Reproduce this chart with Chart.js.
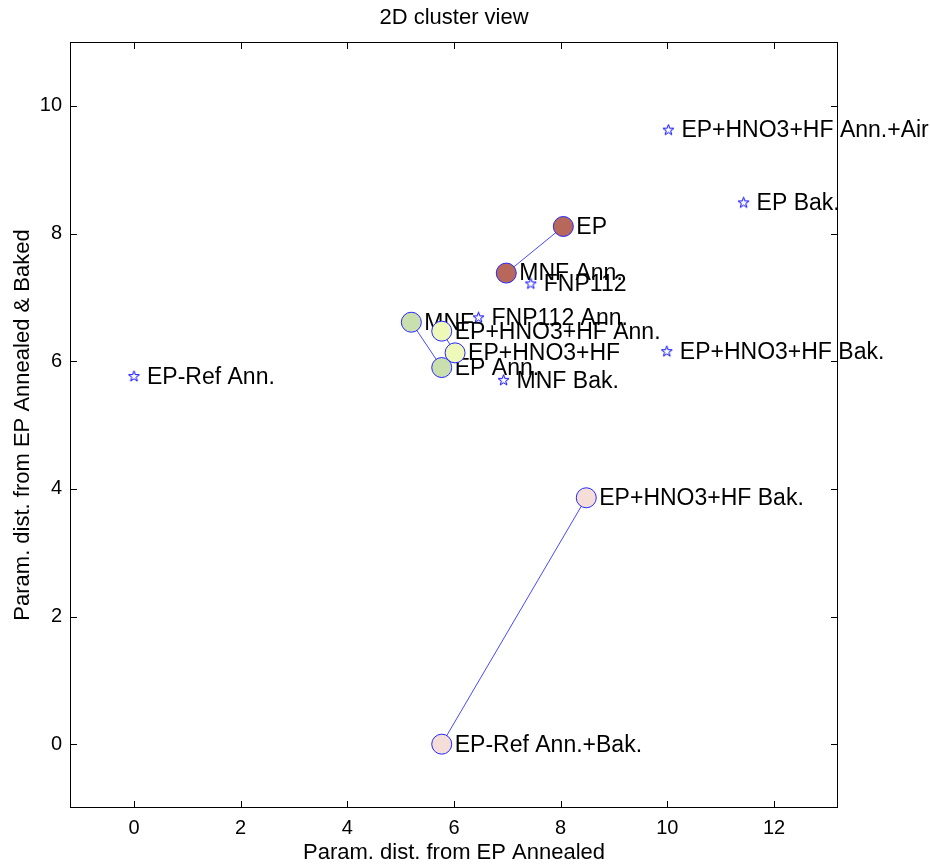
<!DOCTYPE html>
<html>
<head>
<meta charset="utf-8">
<title>2D cluster view</title>
<script src="https://cdn.jsdelivr.net/npm/chart.js@4.4.1/dist/chart.umd.min.js"></script>
<style>
  html, body { margin: 0; padding: 0; background: #fff; }
  #wrap { width: 930px; height: 868px; }
</style>
</head>
<body>
<div id="wrap"><canvas id="clusterChart"></canvas></div>
<script>
// linked samples: entries 0-1, 2-3, 4-5, 6-7 belong together
const pairNames = ['EP', 'MNF Ann.', 'MNF', 'EP Ann.', 'EP+HNO3+HF Ann.', 'EP+HNO3+HF', 'EP+HNO3+HF Bak.', 'EP-Ref Ann.+Bak.'];
const pairX = [8.05, 6.98, 5.20, 5.77, 5.77, 6.02, 8.48, 5.77];
const pairY = [8.11, 7.38, 6.61, 5.90, 6.47, 6.13, 3.86, 0.00];

// samples without a partner, drawn as stars
const soloNames = ['EP+HNO3+HF Ann.+Air', 'EP Bak.', 'FNP112', 'FNP112 Ann.', 'EP+HNO3+HF Bak.', 'MNF Bak.', 'EP-Ref Ann.'];
const soloX = [10.02, 11.43, 7.44, 6.46, 9.99, 6.93, 0.00];
const soloY = [9.62, 8.48, 7.21, 6.68, 6.15, 5.70, 5.76];

const xTicks = [0, 2, 4, 6, 8, 10, 12];
const yTicks = [0, 2, 4, 6, 8, 10];

const pairFills = ['#b7685b', '#c9dfae', '#eef8b8', '#f5ddd8'];
const FONT = '"Liberation Sans", Arial, Helvetica, sans-serif';

// outlined pentagram used as point style
function starMarker(size) {
  const c = document.createElement('canvas');
  c.width = size;
  c.height = size;
  const g = c.getContext('2d');
  const cx = size / 2, cy = size / 2, R = size / 2 - 0.8, r = R * 0.4;
  g.beginPath();
  for (let i = 0; i < 10; i++) {
    const a = -Math.PI / 2 + i * Math.PI / 5;
    const rad = i % 2 ? r : R;
    const px = cx + rad * Math.cos(a), py = cy + rad * Math.sin(a);
    if (i) g.lineTo(px, py); else g.moveTo(px, py);
  }
  g.closePath();
  g.strokeStyle = '#0000ff';
  g.lineWidth = 1;
  g.stroke();
  return c;
}

// higher order is painted first, so pairs stack brown -> pink, stars last
const datasets = [];
for (let i = 0; i < pairNames.length; i += 2) {
  datasets.push({
    label: pairNames[i] + ' / ' + pairNames[i + 1],
    data: [
      { x: pairX[i], y: pairY[i], name: pairNames[i] },
      { x: pairX[i + 1], y: pairY[i + 1], name: pairNames[i + 1] }
    ],
    order: 10 - i,
    showLine: true,
    borderColor: '#4848ff',
    borderWidth: 1,
    pointRadius: 10,
    pointBackgroundColor: pairFills[i / 2],
    pointBorderColor: '#2626ff',
    pointBorderWidth: 1
  });
}
datasets.push({
  label: 'single',
  data: soloNames.map((n, i) => ({ x: soloX[i], y: soloY[i], name: n })),
  order: 0,
  pointStyle: starMarker(13),
  pointRadius: 6,
  showLine: false
});

// box around the plot with inward tick marks on all four sides
const axesBox = {
  id: 'axesBox',
  beforeDatasetsDraw(chart) {
    const { ctx, chartArea: a, scales: { x, y } } = chart;
    const len = 7;
    ctx.save();
    ctx.strokeStyle = '#000';
    ctx.lineWidth = 1;
    ctx.strokeRect(a.left + 0.5, a.top + 0.5, a.width - 1, a.height - 1);
    ctx.beginPath();
    x.ticks.forEach(t => {
      const px = Math.round(x.getPixelForValue(t.value)) + 0.5;
      ctx.moveTo(px, a.bottom); ctx.lineTo(px, a.bottom - len);
      ctx.moveTo(px, a.top); ctx.lineTo(px, a.top + len);
    });
    y.ticks.forEach(t => {
      const py = Math.round(y.getPixelForValue(t.value)) + 0.5;
      ctx.moveTo(a.left, py); ctx.lineTo(a.left + len, py);
      ctx.moveTo(a.right, py); ctx.lineTo(a.right - len, py);
    });
    ctx.stroke();
    ctx.restore();
  }
};

// sample names to the right of each marker, painted right after their dataset
const pointLabels = {
  id: 'pointLabels',
  afterDatasetDraw(chart, args) {
    const { ctx, scales: { x, y } } = chart;
    const ds = chart.data.datasets[args.index];
    ctx.save();
    ctx.font = '23px ' + FONT;
    ctx.fillStyle = '#000';
    ctx.textBaseline = 'middle';
    ds.data.forEach(p => {
      ctx.fillText(p.name, x.getPixelForValue(p.x) + 13, y.getPixelForValue(p.y) + 1);
    });
    ctx.restore();
  }
};

new Chart(document.getElementById('clusterChart'), {
  type: 'scatter',
  data: { datasets },
  options: {
    responsive: true,
    maintainAspectRatio: false,
    animation: false,
    layout: { padding: { left: 0, right: 92, top: 0, bottom: 0 } },
    plugins: {
      legend: { display: false },
      tooltip: { enabled: false }
    },
    scales: {
      // top axis only carries the chart title, centred over the plot
      xTop: {
        type: 'linear',
        position: 'top',
        min: -1.2,
        max: 13.2,
        afterFit: s => { s.height = 42; },
        grid: { display: false, drawTicks: false },
        border: { display: false },
        ticks: { display: false },
        title: {
          display: true,
          text: '2D cluster view',
          color: '#000',
          font: { family: FONT, size: 22 },
          padding: { top: 5, bottom: 0 }
        }
      },
      x: {
        type: 'linear',
        min: -1.2,
        max: 13.2,
        afterBuildTicks: s => { s.ticks = xTicks.map(v => ({ value: v })); },
        afterFit: s => { s.height = 60; },
        grid: { display: false, drawTicks: false },
        border: { display: false },
        ticks: { color: '#000', font: { family: FONT, size: 20 }, padding: 8 },
        title: {
          display: true,
          text: 'Param. dist. from EP Annealed',
          color: '#000',
          font: { family: FONT, size: 22 },
          padding: { top: 0, bottom: 2 }
        }
      },
      y: {
        type: 'linear',
        min: -1,
        max: 11,
        afterBuildTicks: s => { s.ticks = yTicks.map(v => ({ value: v })); },
        afterFit: s => { s.width = 70; },
        grid: { display: false, drawTicks: false },
        border: { display: false },
        ticks: { color: '#000', font: { family: FONT, size: 20 }, padding: 8 },
        title: {
          display: true,
          text: 'Param. dist. from EP Annealed & Baked',
          color: '#000',
          font: { family: FONT, size: 22 },
          padding: { top: 10, bottom: 0 }
        }
      }
    }
  },
  plugins: [axesBox, pointLabels]
});
</script>
</body>
</html>
